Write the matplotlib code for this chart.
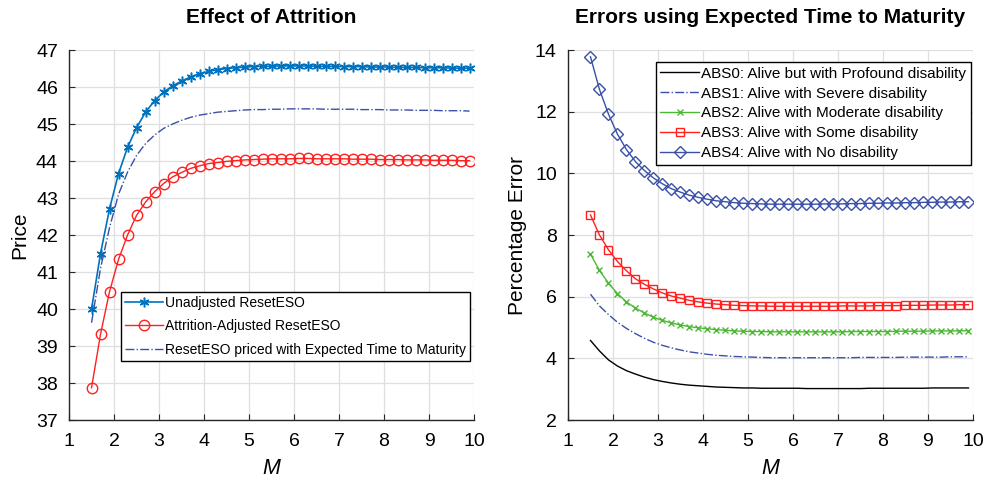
import matplotlib
matplotlib.use("Agg")
import matplotlib.pyplot as plt

plt.rcParams['font.family'] = ['Liberation Sans', 'DejaVu Sans']

# M grid
M = [1.5, 1.7, 1.9, 2.1, 2.3, 2.5, 2.7, 2.9, 3.1, 3.3, 3.5, 3.7, 3.9, 4.1, 4.3,
     4.5, 4.7, 4.9, 5.1, 5.3, 5.5, 5.7, 5.9, 6.1, 6.3, 6.5, 6.7, 6.9, 7.1, 7.3,
     7.5, 7.7, 7.9, 8.1, 8.3, 8.5, 8.7, 8.9, 9.1, 9.3, 9.5, 9.7, 9.9]

# left panel: prices
unadjusted = [40.0, 41.5, 42.71, 43.66, 44.37, 44.9, 45.32, 45.63, 45.86, 46.03, 46.16,
              46.27, 46.36, 46.42, 46.47, 46.50, 46.52, 46.54, 46.55, 46.56, 46.56, 46.57,
              46.57, 46.57, 46.57, 46.56, 46.56, 46.56, 46.55, 46.55, 46.55, 46.54, 46.54,
              46.54, 46.53, 46.53, 46.53, 46.52, 46.52, 46.52, 46.51, 46.51, 46.51]
attrition = [37.87, 39.32, 40.47, 41.34, 42.0, 42.53, 42.89, 43.17, 43.39, 43.57, 43.69,
             43.8, 43.87, 43.93, 43.96, 43.99, 44.01, 44.03, 44.04, 44.05, 44.06, 44.06,
             44.06, 44.07, 44.07, 44.06, 44.06, 44.06, 44.06, 44.05, 44.05, 44.05, 44.04,
             44.04, 44.04, 44.03, 44.03, 44.03, 44.02, 44.02, 44.02, 44.01, 44.01]
expected = [39.63, 41.1, 42.2, 43.1, 43.7, 44.15, 44.47, 44.7, 44.88, 45.0, 45.1,
            45.18, 45.24, 45.28, 45.32, 45.34, 45.36, 45.38, 45.39, 45.39, 45.4, 45.4,
            45.41, 45.41, 45.41, 45.41, 45.4, 45.4, 45.4, 45.4, 45.39, 45.39, 45.39,
            45.38, 45.38, 45.38, 45.37, 45.37, 45.37, 45.36, 45.36, 45.36, 45.35]

# right panel: percentage errors
abs4 = [13.78, 12.72, 11.92, 11.27, 10.77, 10.38, 10.09, 9.85, 9.66, 9.5, 9.39, 9.29,
        9.22, 9.16, 9.11, 9.08, 9.05, 9.03, 9.02, 9.01, 9.0, 9.0, 9.0, 9.0, 9.0, 9.0,
        9.01, 9.01, 9.01, 9.02, 9.02, 9.03, 9.03, 9.04, 9.04, 9.05, 9.05, 9.06, 9.06,
        9.07, 9.07, 9.08, 9.08]
abs3 = [8.65, 8.0, 7.52, 7.14, 6.84, 6.58, 6.4, 6.25, 6.12, 6.02, 5.95, 5.88, 5.83,
        5.79, 5.76, 5.74, 5.72, 5.71, 5.70, 5.70, 5.69, 5.69, 5.69, 5.69, 5.69, 5.69,
        5.69, 5.69, 5.70, 5.70, 5.70, 5.70, 5.71, 5.71, 5.71, 5.72, 5.72, 5.72, 5.73,
        5.73, 5.73, 5.74, 5.74]
abs2 = [7.38, 6.85, 6.44, 6.1, 5.83, 5.63, 5.47, 5.33, 5.23, 5.15, 5.08, 5.03, 4.99,
        4.96, 4.93, 4.91, 4.89, 4.88, 4.87, 4.87, 4.86, 4.86, 4.86, 4.86, 4.86, 4.86,
        4.86, 4.86, 4.86, 4.87, 4.87, 4.87, 4.87, 4.87, 4.88, 4.88, 4.88, 4.88, 4.89,
        4.89, 4.89, 4.89, 4.9]
abs1 = [6.08, 5.7, 5.42, 5.17, 4.97, 4.8, 4.65, 4.52, 4.42, 4.34, 4.27, 4.21, 4.17,
        4.13, 4.1, 4.08, 4.06, 4.05, 4.04, 4.03, 4.02, 4.02, 4.02, 4.02, 4.02, 4.02,
        4.02, 4.02, 4.02, 4.02, 4.03, 4.03, 4.03, 4.03, 4.03, 4.04, 4.04, 4.04, 4.04,
        4.04, 4.05, 4.05, 4.05]
abs0 = [4.58, 4.24, 3.95, 3.75, 3.6, 3.49, 3.39, 3.31, 3.25, 3.2, 3.16, 3.13, 3.11,
        3.09, 3.07, 3.06, 3.05, 3.04, 3.04, 3.03, 3.03, 3.03, 3.03, 3.03, 3.02, 3.02,
        3.02, 3.02, 3.02, 3.02, 3.02, 3.03, 3.03, 3.03, 3.03, 3.03, 3.03, 3.03, 3.04,
        3.04, 3.04, 3.04, 3.04]


def style_axes(ax):
    ax.grid(True, color='#dfdfdf', linewidth=0.9)
    ax.set_axisbelow(True)
    for s in ['top', 'right']:
        ax.spines[s].set_visible(False)
    for s in ['left', 'bottom']:
        ax.spines[s].set_linewidth(1.0)
        ax.spines[s].set_color('#262626')
    ax.tick_params(direction='in', labelsize=14, length=4, colors='#262626',
                   labelcolor='black')
    ax.tick_params(axis='x', pad=9)
    ax.tick_params(axis='y', pad=8)
    ax.set_xlim(1, 10)
    ax.set_xticks(range(1, 11))
    ax.set_xlabel('M', fontsize=15.5, fontstyle='italic')
    ax.xaxis.set_label_coords(0.5, -0.103)


fig = plt.figure(figsize=(9.89, 4.82), dpi=100)
ax1 = fig.add_axes([0.0698, 0.1286, 0.4095, 0.7676])
ax2 = fig.add_axes([0.5743, 0.1286, 0.4095, 0.7676])

# left
ax1.plot(M, unadjusted, color='#0072BD', marker=(6, 2, 0), markersize=7,
         markeredgewidth=1.1, linewidth=1.2, label='Unadjusted ResetESO')
ax1.plot(M, attrition, color='#FF2020', marker='o', markersize=7.5, markerfacecolor='none',
         linewidth=1.0, label='Attrition-Adjusted ResetESO')
ax1.plot(M, expected, color='#3A50A8', linestyle='-.', linewidth=1.0,
         label='ResetESO priced with Expected Time to Maturity')
style_axes(ax1)
ax1.set_ylim(37, 47)
ax1.set_yticks(range(37, 48))
ax1.set_title('Effect of Attrition', fontsize=15, fontweight='bold', pad=19.5)
ax1.set_ylabel('Price', fontsize=15)
ax1.yaxis.set_label_coords(-0.0975, 0.5)
leg1 = ax1.legend(loc='upper left', bbox_to_anchor=(0.128, 0.347), fontsize=10,
                  frameon=True, fancybox=False, edgecolor='black', framealpha=1,
                  borderpad=0.3, labelspacing=0.68, handlelength=2.7, handletextpad=0.2,
                  borderaxespad=0)
leg1.get_frame().set_linewidth(1.0)

# right
ax2.plot(M, abs0, color='black', linewidth=1.0,
         label='ABS0: Alive but with Profound disability')
ax2.plot(M, abs1, color='#3A50A8', linestyle='-.', linewidth=1.0,
         label='ABS1: Alive with Severe disability')
ax2.plot(M, abs2, color='#4DB836', marker='x', markersize=5, linewidth=1.0,
         label='ABS2: Alive with Moderate disability')
ax2.plot(M, abs3, color='#FF2020', marker='s', markersize=6, markerfacecolor='none',
         linewidth=1.0, label='ABS3: Alive with Some disability')
ax2.plot(M, abs4, color='#3A50A8', marker='D', markersize=6, markerfacecolor='none',
         linewidth=1.0, label='ABS4: Alive with No disability')
style_axes(ax2)
ax2.set_ylim(2, 14)
ax2.set_yticks(range(2, 15, 2))
ax2.set_title('Errors using Expected Time to Maturity', fontsize=15, fontweight='bold', pad=19.5)
ax2.set_ylabel('Percentage Error', fontsize=15)
ax2.yaxis.set_label_coords(-0.101, 0.5)
leg2 = ax2.legend(loc='upper right', bbox_to_anchor=(0.994, 0.967), fontsize=11,
                  frameon=True, fancybox=False, edgecolor='black', framealpha=1,
                  borderpad=0.3, labelspacing=0.38, handlelength=2.5, handletextpad=0.15,
                  borderaxespad=0)
leg2.get_frame().set_linewidth(1.0)

fig.savefig('out.png', dpi=100)
